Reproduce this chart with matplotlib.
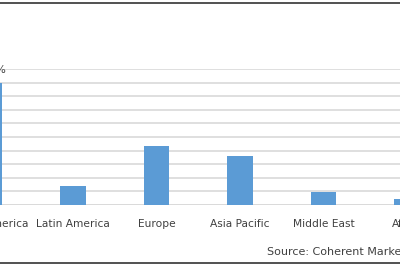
import matplotlib
matplotlib.use("Agg")
import matplotlib.pyplot as plt
from matplotlib.lines import Line2D

categories = ["North America", "Latin America", "Europe", "Asia Pacific", "Middle East", "Africa"]
values = [45.0, 7.0, 21.7, 18.0, 4.8, 2.2]
label_text = "45.0%"
source = "Source: Coherent Market Insights"

W, H = 400, 266
fig = plt.figure(figsize=(W/100, H/100), dpi=100)
fig.patch.set_facecolor("white")

y0 = (H - 205) / H
y1 = (H - 69) / H
ax = fig.add_axes([0, y0, 1, y1 - y0])
ax.set_facecolor("none")

x = list(range(len(categories)))
ax.bar(x, values, width=0.3, color="#5B9BD5", zorder=3)
step = 83.5
xmin = 10.5 / step
ax.set_xlim(xmin, xmin + W / step)
ax.set_ylim(0, 50)
ax.set_yticks(range(0, 55, 5))
ax.yaxis.grid(True, color="#D9D9D9", linewidth=1.2, zorder=0)
ax.tick_params(left=False, labelleft=False, bottom=False, labelbottom=False)
for s in ax.spines.values():
    s.set_visible(False)
ax.axhline(0, color="#D9D9D9", linewidth=1.2, zorder=2)

for i, c in enumerate(categories):
    ax.text(i, -0.14, c, transform=ax.get_xaxis_transform(), ha="center", va="center",
            fontsize=7.7, color="#404040", clip_on=False, family="DejaVu Sans")

ax.text(0, values[0] + 4.8, label_text, ha="center", va="center", fontsize=7.7,
        color="#404040", clip_on=False)

fig.text(267 / W, 1 - 252 / H, source, ha="left", va="center", fontsize=8.0,
         color="#404040", family="DejaVu Sans")

fig.add_artist(Line2D([0, 1], [1 - 2.5 / H, 1 - 2.5 / H], color="#333333", linewidth=1.2, transform=fig.transFigure))
fig.add_artist(Line2D([0, 1], [1 - 263 / H, 1 - 263 / H], color="#333333", linewidth=1.2, transform=fig.transFigure))

fig.savefig("out.png", dpi=100, facecolor="white")
